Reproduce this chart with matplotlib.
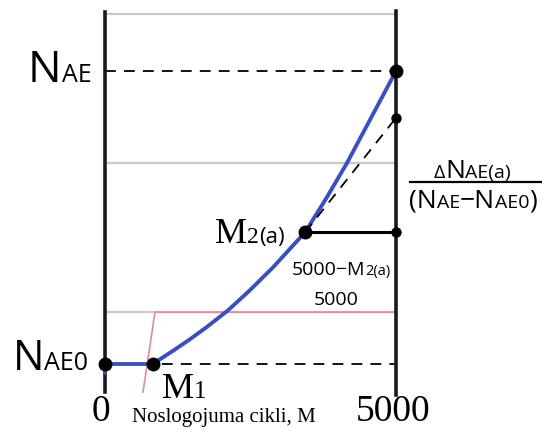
import matplotlib
matplotlib.use('Agg')
import matplotlib.pyplot as plt

W, H = 542, 432

# cycles on x, normalised AE counts on y (NAE0 = 0, NAE = 1)
curve_x = [0, 0, 820, 1168, 1450, 1753, 2113, 2491, 2887, 3150, 3440, 3800, 4158, 5000]
curve_y = [-0.03, 0, 0, 0.045, 0.083, 0.127, 0.183, 0.252, 0.33, 0.387, 0.45, 0.565, 0.686, 1.0]
load_x = [653, 859, 5000]
load_y = [-0.096, 0.177, 0.177]
grid_y = [0.177, 0.686, 1.195]

M1 = 820
M2 = 3440
N_M2 = 0.45
N_EXTRAP = 0.84
N_AE0 = 0.0
N_AE = 1.0
M_END = 5000

SANS = ['Open Sans', 'DejaVu Sans']
SERIF = ['Liberation Serif', 'DejaVu Serif']

fig = plt.figure(figsize=(W / 100, H / 100), dpi=100)
ax = fig.add_axes([0, 0, 1, 1])
ax.set_xlim(-105 / 0.0582, (W - 105) / 0.0582)
ax.set_ylim(-(H - 364) / 293, 364 / 293)
ax.axis('off')

# light gray reference levels
for gy in grid_y:
    ax.plot([0, M_END], [gy, gy], color='#c8c8c8', lw=1.6, zorder=1)

# loading ramp
ax.plot(load_x, load_y, color='#e88a94', lw=1.2, zorder=2)

# dashed levels for NAE0 and NAE
ax.plot([0, M_END], [N_AE0, N_AE0], color='black', lw=1.3, ls=(0, (6, 4.5)), zorder=3)
ax.plot([0, M_END], [N_AE, N_AE], color='black', lw=1.3, ls=(0, (6, 4.5)), zorder=3)

# axes frame lines
ax.plot([0, 0], [-0.096, 1.201], color='#1a1a1a', lw=2.6, zorder=4)
ax.plot([M_END, M_END], [-0.107, 1.205], color='#1a1a1a', lw=2.6, zorder=4)

# cumulative AE curve
ax.plot(curve_x, curve_y, color='#3b4fc4', lw=2.8, solid_capstyle='round',
        solid_joinstyle='round', zorder=5)

# extrapolation from M2(a)
ax.plot([M2, M_END], [N_M2, N_EXTRAP], color='black', lw=1.3, ls=(0, (6, 4.5)), zorder=6)
ax.plot([M2, M_END], [N_M2, N_M2], color='black', lw=2.2, zorder=6)

ax.plot([0, M1, M2, M_END], [N_AE0, N_AE0, N_M2, N_AE], 'o', color='black', ms=9, zorder=7)
ax.plot([M_END, M_END], [N_M2, N_EXTRAP], 'o', color='black', ms=6.5, zorder=7)

fig.canvas.draw()
renderer = fig.canvas.get_renderer()


def label(x, y, parts, align='left'):
    # x, y in image pixels (top-left origin), y is the baseline
    widths = []
    texts = []
    for s, size, fam in parts:
        t = fig.text(0, 0, s, fontsize=size, family=fam, va='baseline', ha='left')
        widths.append(t.get_window_extent(renderer).width)
        texts.append(t)
    total = sum(widths)
    if align == 'center':
        x -= total / 2
    elif align == 'right':
        x -= total
    for t, w in zip(texts, widths):
        t.set_position((x / W, (H - y) / H))
        x += w
    return total


label(28, 82, [('N', 32, SANS), ('AE', 18, SANS)])
label(13, 370, [('N', 30, SANS), ('AE0', 18, SANS)])

label(162, 398, [('M', 26, SERIF), ('1', 18, SERIF)])
label(215, 243, [('M', 26, SERIF), ('2', 17, SERIF), ('(a)', 16, SANS)])

label(101, 421, [('0', 27, SERIF)], align='center')
label(393, 421, [('5000', 27, SERIF)], align='center')
label(132, 422, [('Noslogojuma cikli, M', 15, SERIF)])

label(341, 275, [('5000\u2212M', 14, SANS), ('2(a)', 10.5, SANS)], align='center')
label(336, 305, [('5000', 14, SANS)], align='center')

# ratio written beside the right edge
label(472, 178, [('\u0394', 14, SANS), ('N', 19, SANS), ('AE(a)', 14, SANS)], align='center')
label(473, 208, [('(N', 19, SANS), ('AE', 14, SANS), ('\u2212N', 19, SANS),
                 ('AE0', 14, SANS), (')', 19, SANS)], align='center')
fig.add_artist(plt.Line2D([410 / W, 1.0], [(H - 182) / H] * 2, color='black', lw=1.6))

fig.savefig('out.png', dpi=100)
